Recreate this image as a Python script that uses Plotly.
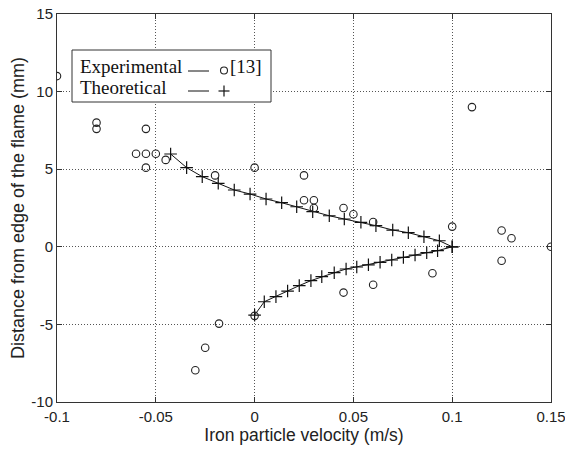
import plotly.graph_objects as go

# ---------------- data ----------------
exp_x = [-0.1, -0.08, -0.08, -0.06, -0.055, -0.05, -0.055, -0.055, -0.045, -0.02,
         0.0, 0.025, 0.025, 0.03, 0.03, 0.045, 0.05, 0.06, 0.1, 0.11,
         0.125, 0.13, 0.125, 0.15, 0.09, 0.06, 0.045, 0.0, -0.018, -0.025, -0.03]
exp_y = [11.0, 8.0, 7.6, 6.0, 6.0, 6.0, 7.6, 5.1, 5.6, 4.6,
         5.1, 4.6, 3.0, 3.0, 2.5, 2.5, 2.1, 1.6, 1.3, 9.0,
         1.05, 0.55, -0.9, 0.0, -1.7, -2.45, -2.95, -4.45, -4.95, -6.5, -7.95]

theo_upper_x = [-0.0425, -0.0344, -0.0265, -0.0184, -0.0103, -0.0023, 0.0058, 0.0137,
                0.0213, 0.0294, 0.0378, 0.0454, 0.0538, 0.0614, 0.0699, 0.0778,
                0.0857, 0.0935, 0.1]
theo_upper_y = [5.98, 5.1, 4.52, 4.09, 3.66, 3.4, 3.08, 2.84,
                2.58, 2.26, 2.0, 1.79, 1.58, 1.36, 1.08, 0.91,
                0.65, 0.39, 0.0]

theo_lower_x = [0.0, 0.0049, 0.0108, 0.0167, 0.0226, 0.0285, 0.034, 0.0403, 0.0463,
                0.0517, 0.0576, 0.0635, 0.0694, 0.0753, 0.0812, 0.0871, 0.0926, 0.1]
theo_lower_y = [-4.4, -3.54, -3.21, -2.85, -2.5, -2.18, -1.92, -1.67, -1.43,
                -1.3, -1.16, -1.0, -0.85, -0.68, -0.53, -0.38, -0.25, 0.0]

x_ticks = [-0.1, -0.05, 0, 0.05, 0.1, 0.15]
x_tick_labels = ["-0.1", "-0.05", "0", "0.05", "0.1", "0.15"]
y_ticks = [-10, -5, 0, 5, 10, 15]
y_tick_labels = ["-10", "-5", "0", "5", "10", "15"]

x_title = "Iron particle velocity (m/s)"
y_title = "Distance from edge of the flame (mm)"
legend_labels = ["Experimental", "Theoretical"]
legend_ref = "[13]"

# ---------------- layout geometry ----------------
W, H = 565, 449
L, R, T, B = 57, 551, 14, 402


def px(xpix):
    return (xpix - L) / (R - L)


def py(ypix):
    return (B - ypix) / (B - T)


fig = go.Figure()

fig.add_trace(go.Scatter(
    x=theo_upper_x + theo_lower_x[::-1],
    y=theo_upper_y + theo_lower_y[::-1],
    mode="lines+markers",
    line=dict(color="#111111", width=1),
    marker=dict(symbol="cross-thin", size=9, line=dict(color="#111111", width=1.2)),
    showlegend=False,
))

fig.add_trace(go.Scatter(
    x=exp_x, y=exp_y, mode="markers",
    marker=dict(symbol="circle-open", size=7.5, color="#222222", line=dict(width=1.1)),
    showlegend=False,
))

sans = "Liberation Sans, Arial, sans-serif"
axis_common = dict(
    showline=True, linecolor="#333333", linewidth=1, mirror="ticks",
    showgrid=True, gridcolor="#555555", griddash="1px,2px", gridwidth=1,
    zeroline=False, ticks="inside", ticklen=5, tickcolor="#333333",
    tickfont=dict(family=sans, size=15, color="#222222"),
)

fig.update_xaxes(
    range=[-0.1, 0.15], tickvals=x_ticks, ticktext=x_tick_labels,
    title=dict(text=x_title, font=dict(family=sans, size=17.5, color="#222222"), standoff=4),
    ticklabelstandoff=1, ticklabeloverflow="allow",
    **axis_common,
)
fig.update_yaxes(
    range=[-10, 15], tickvals=y_ticks, ticktext=y_tick_labels,
    title=dict(text=y_title, font=dict(family=sans, size=18, color="#222222"), standoff=2),
    ticklabelstandoff=0, ticklabeloverflow="allow",
    **axis_common,
)

shapes = []
annotations = []

# legend box
shapes.append(dict(type="rect", xref="paper", yref="paper",
                   x0=px(72), x1=px(271), y0=py(102), y1=py(50),
                   line=dict(color="#333333", width=1), fillcolor="white", layer="above"))
lf = dict(family="Liberation Serif, Times New Roman, serif", size=19, color="#111111")
for i, lab in enumerate(legend_labels):
    yc = 67 + 20 * i
    annotations.append(dict(text=lab, xref="paper", yref="paper", x=px(78), y=py(yc),
                            xanchor="left", yanchor="middle", showarrow=False, font=lf))
    shapes.append(dict(type="line", xref="paper", yref="paper",
                       x0=px(188), x1=px(209), y0=py(yc + 4), y1=py(yc + 4),
                       line=dict(color="#111111", width=1), layer="above"))
# circle symbol + reference
shapes.append(dict(type="circle", xref="paper", yref="paper",
                   x0=px(220.5), x1=px(227.5), y0=py(74), y1=py(67),
                   line=dict(color="#222222", width=1.1), layer="above"))
annotations.append(dict(text=legend_ref, xref="paper", yref="paper", x=px(228), y=py(67),
                        xanchor="left", yanchor="middle", showarrow=False, font=lf))
# plus symbol
shapes.append(dict(type="line", xref="paper", yref="paper",
                   x0=px(218.5), x1=px(229.5), y0=py(91), y1=py(91),
                   line=dict(color="#111111", width=1.2), layer="above"))
shapes.append(dict(type="line", xref="paper", yref="paper",
                   x0=px(224), x1=px(224), y0=py(85.5), y1=py(96.5),
                   line=dict(color="#111111", width=1.2), layer="above"))

fig.update_layout(
    width=W, height=H,
    margin=dict(l=L, r=W - R, t=T, b=H - B, autoexpand=False),
    paper_bgcolor="white", plot_bgcolor="white",
    shapes=shapes, annotations=annotations,
    showlegend=False,
)

fig.write_html("out.html")
